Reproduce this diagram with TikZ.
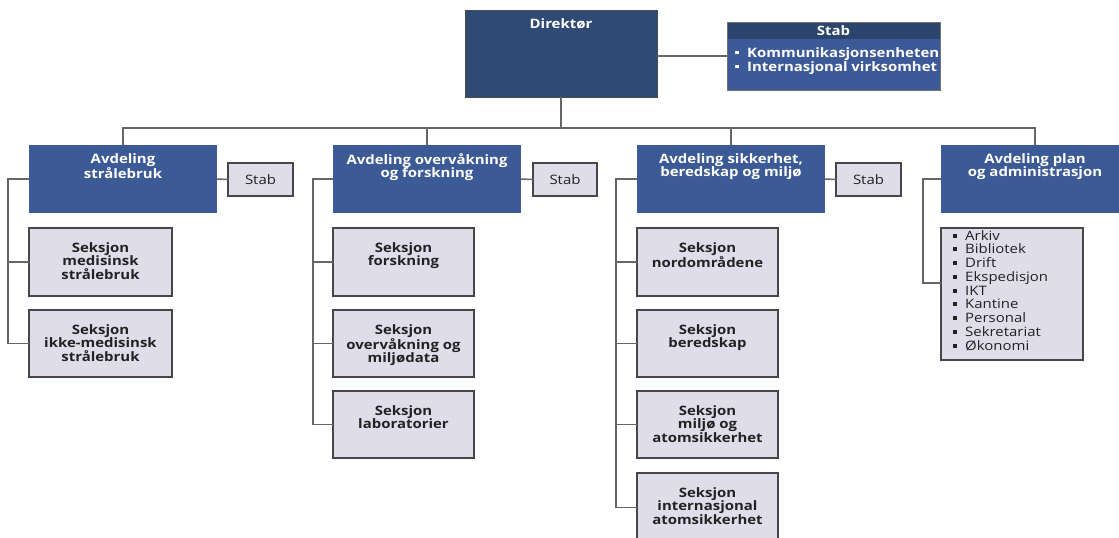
\documentclass[tikz,border=0pt]{standalone}
\usepackage{fontspec}
\setmainfont{Open Sans}[FakeStretch=1.15]
\definecolor{dirblue}{HTML}{2F4A75}
\definecolor{deptblue}{HTML}{3C5A95}
\definecolor{stabhead}{HTML}{2B446C}
\definecolor{stabbody}{HTML}{3D5A98}
\definecolor{secfill}{HTML}{DEDDE9}
\definecolor{secline}{HTML}{4B4549}
\definecolor{conncol}{HTML}{666666}
\definecolor{txtdark}{HTML}{222222}
\newcommand\mkbox[6]{\node[#1, minimum width={(#5-#3)*1pt}, minimum height={(#6-#4)*1pt}] (#2) at (#3,#4) {};}
\newcommand\sqb{\rule[2.5pt]{4pt}{4pt}}
\newcommand\wsqb{\textcolor{white}{\rule[2.8pt]{4pt}{3pt}}}
\begin{document}
\begin{tikzpicture}[x=1pt,y=-1pt,
  boxbase/.style={anchor=north west, inner sep=0pt, outer sep=0pt},
  dirbox/.style={boxbase, fill=dirblue, draw=black!70, line width=1pt},
  deptbox/.style={boxbase, fill=deptblue},
  stabbox/.style={boxbase, fill=stabbody, draw=black!55, line width=1pt},
  stabhd/.style={boxbase, fill=stabhead},
  secbox/.style={boxbase, fill=secfill, draw=secline, line width=1.8pt},
  conn/.style={draw=conncol, line width=1.5pt},
  wtxt/.style={anchor=north, inner sep=0pt, align=center, text=white, font=\bfseries\fontsize{13}{13.6}\selectfont},
  btxt/.style={anchor=north, inner sep=0pt, align=center, text=txtdark, font=\bfseries\fontsize{13}{13.6}\selectfont},
  rtxt/.style={anchor=center, inner sep=0pt, text=txtdark, font=\fontsize{13}{13.6}\selectfont},
  ltxt/.style={anchor=north west, inner sep=0pt, align=left, text=txtdark, font=\fontsize{13}{13.75}\selectfont}
]
\useasboundingbox (0,0) rectangle (1119,538);
\clip (0,0) rectangle (1119,538);
% top level
\mkbox{dirbox}{dir}{465}{10}{657}{97}
\mkbox{stabbox}{stab}{727}{22}{940}{90}
\mkbox{stabhd}{stabh}{727.5}{22.5}{939.5}{39}
\node[wtxt] (tdir) at (561,18) {Direktør};
\node[wtxt, anchor=center] (tstab) at (stabh.center) {Stab};
\node[anchor=north west, inner sep=0pt, align=left, text=white, font=\bfseries\fontsize{13}{14}\selectfont] (tstabl) at (735,47) {\wsqb\hspace{8pt}Kommunikasjonsenheten\\\wsqb\hspace{8pt}Internasjonal virksomhet};
% departments
\mkbox{deptbox}{d1}{29}{145}{217}{213}
\mkbox{deptbox}{d2}{333}{145}{521}{213}
\mkbox{deptbox}{d3}{637}{145}{825}{213}
\mkbox{deptbox}{d4}{941}{145}{1129}{213}
\node[wtxt] (td1) at (123,153) {Avdeling\\strålebruk};
\node[wtxt] (td2) at (427,153) {Avdeling overvåkning\\og forskning};
\node[wtxt] (td3) at (731,153) {Avdeling sikkerhet,\\beredskap og miljø};
\node[wtxt] (td4) at (1035,153) {Avdeling plan\\og administrasjon};
% small stab boxes
\mkbox{secbox}{st1}{228}{163}{293}{196}
\mkbox{secbox}{st2}{533}{163}{597}{196}
\mkbox{secbox}{st3}{836}{163}{901}{196}
\node[rtxt] (tst1) at (st1.center) {Stab};
\node[rtxt] (tst2) at (st2.center) {Stab};
\node[rtxt] (tst3) at (st3.center) {Stab};
% sections
\mkbox{secbox}{s11}{29}{228}{172}{296}
\mkbox{secbox}{s12}{29}{310}{172}{377}
\mkbox{secbox}{s21}{333}{228}{474}{296}
\mkbox{secbox}{s22}{333}{310}{474}{377}
\mkbox{secbox}{s23}{333}{391}{474}{458}
\mkbox{secbox}{s31}{637}{228}{778}{296}
\mkbox{secbox}{s32}{637}{310}{778}{377}
\mkbox{secbox}{s33}{637}{391}{778}{458}
\mkbox{secbox}{s34}{637}{473}{778}{542}
\mkbox{secbox}{l4}{941}{228}{1083}{360}
\node[btxt] (ts11) at ([yshift=-14pt]s11.north) {Seksjon\\medisinsk\\strålebruk};
\node[btxt] (ts12) at ([yshift=-14pt]s12.north) {Seksjon\\ikke-medisinsk\\strålebruk};
\node[btxt] (ts21) at ([yshift=-14pt]s21.north) {Seksjon\\forskning};
\node[btxt] (ts22) at ([yshift=-14pt]s22.north) {Seksjon\\overvåkning og\\miljødata};
\node[btxt] (ts23) at ([yshift=-14pt]s23.north) {Seksjon\\laboratorier};
\node[btxt] (ts31) at ([yshift=-14pt]s31.north) {Seksjon\\nordområdene};
\node[btxt] (ts32) at ([yshift=-14pt]s32.north) {Seksjon\\beredskap};
\node[btxt] (ts33) at ([yshift=-14pt]s33.north) {Seksjon\\miljø og\\atomsikkerhet};
\node[btxt] (ts34) at ([yshift=-14pt]s34.north) {Seksjon\\internasjonal\\atomsikkerhet};
\node[ltxt] (tl4) at (953,230) {\sqb\hspace{8pt}Arkiv\\\sqb\hspace{8pt}Bibliotek\\\sqb\hspace{8pt}Drift\\\sqb\hspace{8pt}Ekspedisjon\\\sqb\hspace{8pt}IKT\\\sqb\hspace{8pt}Kantine\\\sqb\hspace{8pt}Personal\\\sqb\hspace{8pt}Sekretariat\\\sqb\hspace{8pt}Økonomi};
% connectors
\coordinate (bus) at (0,128);
\coordinate (l4c) at (941,283);
\draw[conn] (stab.west) -- (stab.west -| dir.east);
\draw[conn] (dir.south) -- (dir.south |- bus);
\draw[conn] (d1.north) -- (d1.north |- bus) -- (d4.north |- bus) -- (d4.north);
\draw[conn] (d2.north) -- (d2.north |- bus);
\draw[conn] (d3.north) -- (d3.north |- bus);
\draw[conn] (d1.east) -- (st1.west);
\draw[conn] (d2.east) -- (st2.west);
\draw[conn] (d3.east) -- (st3.west);
\draw[conn] (d1.west) -- ++(-21,0) |- (s12.west);
\draw[conn] (s11.west) -- ++(-21,0);
\draw[conn] (d2.west) -- ++(-20,0) |- (s23.west);
\draw[conn] (s21.west) -- ++(-20,0);
\draw[conn] (s22.west) -- ++(-20,0);
\draw[conn] (d3.west) -- ++(-21,0) |- (s34.west);
\draw[conn] (s31.west) -- ++(-21,0);
\draw[conn] (s32.west) -- ++(-21,0);
\draw[conn] (s33.west) -- ++(-21,0);
\draw[conn] (d4.west) -- ++(-18,0) |- (l4c);
\end{tikzpicture}
\end{document}
